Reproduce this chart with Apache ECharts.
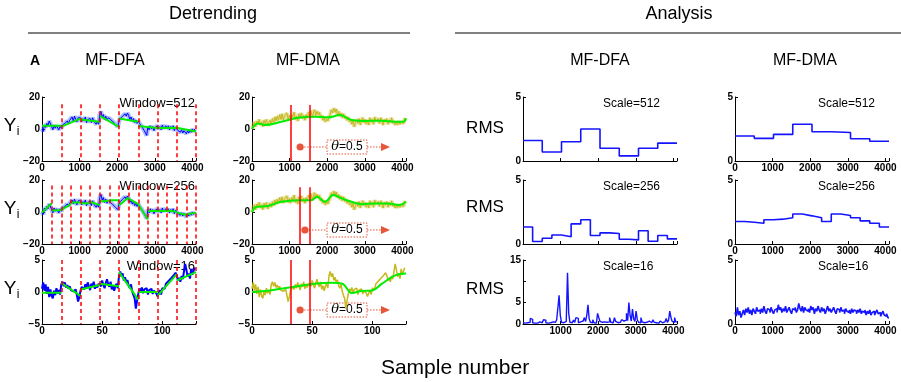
<!DOCTYPE html>
<html>
<head>
<meta charset="utf-8">
<script src="https://cdn.jsdelivr.net/npm/echarts@6/dist/echarts.min.js"></script>
<style>html,body{margin:0;background:#fff}#chart{width:901px;height:382px}</style>
</head>
<body>
<div id="chart"></div>
<script>
"use strict";
// long signals: one value every 32 samples (0..4064)
const SAMPLE_STEP = 32;
const dfaSignal = [
    0, -1.5, 2.5, 1, 3.5, 2, 5, 4.5,
    1.5, -0.5, 2.5, 0.5, 2, 1, -0.5, 2,
    0.5, 2.5, 1.5, 3.5, 2.5, 5, 3.5, 5.5,
    5, 7.5, 5, 8, 6, 4.5, 7, 6,
    7, 4.5, 6.5, 5, 7.5, 4, 6, 5,
    6.5, 4, 7, 5, 5.5, 3, 4.5, 3,
    9, 11, 7.5, 9, 6, 8, 5.5, 7,
    8, 6, 7, 4.5, 5, 3, 3.5, 1.5,
    5, 6.5, 5.5, 8, 7, 9.5, 8, 10,
    8.5, 6, 7.5, 5, 6.5, 4, 5.5, 3.5,
    5, 3.5, 4, 1.5, 2, -1, -0.5, -4,
    1.5, -0.5, 2, 0, 1.5, -1, 1, 0.5,
    2, 0, 1.5, -0.5, 2.5, 0.5, 1, 2,
    0.5, 2, -0.5, 1.5, 0, 2, -1, 1,
    1, -1, 0, -2, -0.5, -2.5, -1, -2,
    -3, -1, -2.5, -0.5, -2, 0, -1.5, 0
];
const dmaSignal = [
    0, 2, 4.5, 1.5, 5, 3, 6, 2.5,
    4.5, 1.5, 5.5, 3, 6, 2, 4, 5.5,
    3, 6.5, 4, 7.5, 5, 8, 5.5, 9,
    6, 9.5, 5.5, 8, 7, 10, 6, 8.5,
    5.5, 9, 7.5, 10.5, 6, 8, 5, 9.5,
    7, 10, 6.5, 8.5, 5.5, 9, 7, 10.5,
    8, 11.5, 7.5, 10, 12, 8.5, 11, 9,
    10.5, 7, 8.5, 5.5, 7, 4.5, 6.5, 5,
    7.5, 9, 12, 10, 13, 10.5, 12.5, 9,
    11, 8, 10, 7, 9.5, 6.5, 8, 5.5,
    7.5, 4.5, 6, 3, 5.5, 1.5, 4, 6,
    3.5, 6.5, 2.5, 5, 7, 4, 6, 3,
    5.5, 2.5, 7, 4.5, 6, 3, 7.5, 5,
    4, 6.5, 3.5, 7, 5, 2.5, 6, 4.5,
    6.5, 3, 5.5, 4, 7, 3.5, 5, 2.5,
    4.5, 2.5, 5, 3, 4.5, 5.5, 3.5, 7
];
// first 128 samples
const shortSignal = [
    0.5, 1.5, 0.2, 1.2, -0.3, 0.8, -0.8, 0.4, -0.6, -1, 0.2, -0.5, 0.6, -0.2, 0.3, -0.4,
    1.2, 1.6, 0.9, 1.5, 0.7, 1.1, 0.5, 0.9, 0.3, 0.6, 0.1, -0.2, 0.4, -0.5, -1.5, -0.8,
    0.2, 0.8, 1, 0.4, 1.2, 0.6, 1.5, 0.9, 0.3, 1.3, 0.8, 1.6, 0.5, 1.1, 0.7, 1.3,
    1.5, 0.9, 1.8, 1.1, 0.6, 1.4, 2, 1.2, 0.8, 1.6, 0.4, 1, 0.2, 0.9, 1.3, 0.6,
    2.5, 3.2, 2.4, 2.9, 1.8, 2.3, 1.5, 1.9, 1, 0.6, 1.2, 0.1, -0.5, -1, -2.6, -1.4,
    -0.3, 0.5, 0.1, 0.7, -0.2, 0.4, 0.2, 0.6, -0.4, 0.3, 0, 0.5, -0.3, 0.2, 0.4, -0.2,
    -0.7, -0.2, 0.3, -0.4, 0.6, 0.9, 0.5, 1.3, 1, 1.7, 1.4, 2.1, 1.8, 2.5, 2.2, 3,
    2.6, 1.8, 2.2, 1.6, 2.5, 2, 3.2, 4.4, 3.5, 2.4, 2.9, 2.1, 3.6, 2.7, 3.3, 3.8
];
// DFA local fits, [start, end] value of each window
const fit512 = [[2, 2], [1.5, 6.5], [6, 4.5], [8.2, 1.4], [6.6, 4.5], [1.9, 0.6], [0.6, 0.8], [0.8, -1.6]];
const fit256 = [[-0.4, 5.5], [1, 1.3], [1.3, 4.9], [6, 6], [5.5, 5.5], [6.4, 4.3], [6.6, 7], [7.4, 7.4],
    [4.2, 9.1], [8.3, 4.9], [4.9, -4.7], [0.6, 0.6], [0.6, 0.6], [1, 0.2], [-0.4, -1.9], [-1.5, -0.4]];
const fit16 = [[-0.1, -0.1], [1.4, -0.6], [0.4, 1.1], [1.3, 0.9], [3.1, -1.2], [0, 0], [-0.6, 2.8], [1.8, 3.1]];
// DMA moving averages [sample, value]
const trend512 = [[0, 0], [160, 3.5], [340, 2.5], [780, 4.5], [1230, 7], [1670, 7.7], [2030, 7.3], [2340, 8.7],
    [2650, 5.6], [3000, 5], [3450, 5.2], [3810, 4.6], [4030, 4.6], [4096, 6.7]];
const trend256 = [[0, 0], [115, 3.2], [430, 3.8], [780, 6.4], [1230, 7.4], [1580, 7.4], [1720, 9.6], [1940, 6.4],
    [2160, 10.6], [2390, 8.5], [2650, 6.4], [2920, 4.9], [3280, 5.3], [3630, 5.3], [3900, 4.3], [4096, 6.4]];
const trend16 = [[0, 0], [10.6, 0.15], [24, 0.5], [38, 0.9], [52, 1.3], [66, 1.45], [75, 1.3], [83, -0.15],
    [91, 0.15], [100, 0.25], [108, 1.3], [119, 2.6], [128, 2.9]];
const dmaMarks512 = [1024, 1536];
const dmaMarks256 = [1280, 1536];
const dmaMarks16 = [32, 48];
// RMS per window
const rmsDfa512 = [1.6, 0.7, 1.5, 2.5, 1.0, 0.4, 1.0, 1.4];
const rmsDfa256 = [1.33, 0.19, 0.45, 0.7, 0.56, 1.57, 1.9, 0.66, 0.87, 0.82, 0.37, 0.32, 1.04, 0.21, 0.66, 0.4];
const rmsDma512 = [1.95, 1.77, 2.08, 2.87, 2.28, 2.23, 1.74, 1.54];
const rmsDma256 = [1.76, 1.7, 1.62, 1.89, 1.94, 2.05, 2.34, 2.2, 2.05, 1.76, 2.34, 2.23, 2.05, 1.81, 1.62, 1.33];
const rmsDfa16 = [
    0.3, 0.2, 0.5, 0.3, 0.2, 0.4, 1.3, 1.1, 0.3, 0.2, 0.4, 0.2, 0.3, 0.5, 0.2, 0.3,
    0.6, 1.0, 0.9, 0.3, 0.2, 0.4, 0.3, 0.2, 0.5, 0.3, 0.4, 0.6, 1.0, 3.8, 6.7, 2.0,
    0.4, 0.3, 0.5, 0.6, 1.2, 12, 2.5, 0.4, 0.3, 0.6, 0.9, 0.4, 1.5, 1.3, 0.3, 0.5,
    0.4, 0.7, 0.5, 1.5, 0.6, 2.0, 4.5, 1.2, 0.4, 0.3, 1.0, 0.3, 0.2, 0.6, 2.5, 1.5,
    0.6, 0.4, 0.3, 0.5, 0.2, 0.4, 0.3, 0.5, 1.5, 0.4, 0.3, 0.5, 1.5, 0.6, 0.3, 0.2,
    0.4, 0.6, 1.0, 0.7, 0.3, 0.9, 2.5, 0.8, 5.0, 2.0, 0.7, 3.5, 1.2, 0.6, 3.0, 1.0,
    0.4, 0.3, 1.5, 0.5, 0.3, 0.2, 0.4, 0.3, 0.7, 0.4, 0.3, 0.2, 1.0, 0.4, 0.3, 0.5,
    0.2, 0.4, 0.7, 0.3, 0.2, 0.5, 0.6, 1.3, 0.4, 0.9, 3.0, 1.5, 0.6, 0.4, 1.5, 0.5
];
const rmsDma16 = [
    0.9, 0.6, 1.3, 0.7, 1.0, 0.5, 0.8, 1.1, 0.7, 1.2, 0.9, 1.3, 0.8, 1.1, 0.7, 1.2,
    1.0, 0.8, 1.3, 1.0, 1.1, 0.8, 1.2, 0.9, 1.4, 1.0, 0.8, 1.2, 1.1, 0.9, 1.3, 1.0,
    0.8, 1.1, 1.2, 0.9, 1.5, 1.1, 1.3, 0.9, 1.2, 1.0, 1.4, 0.9, 1.1, 1.3, 1.0, 0.8,
    1.2, 1.1, 1.3, 0.9, 1.1, 1.6, 1.2, 1.0, 1.4, 0.9, 1.3, 1.1, 1.0, 1.2, 0.9, 1.4,
    1.1, 1.3, 0.8, 1.2, 1.0, 1.4, 1.1, 0.9, 1.3, 1.0, 1.2, 0.8, 1.1, 1.4, 1.0, 1.2,
    0.9, 1.1, 1.3, 1.0, 0.8, 1.2, 1.1, 0.9, 1.3, 1.0, 1.1, 0.8, 1.2, 1.0, 0.9, 1.1,
    0.8, 1.2, 0.9, 1.1, 1.0, 0.8, 1.1, 0.9, 1.2, 0.8, 1.0, 0.9, 1.1, 0.7, 1.0, 0.8,
    1.1, 0.7, 0.9, 1.0, 0.7, 0.9, 1.1, 0.8, 0.9, 0.6, 0.8, 1.0, 0.7, 0.6, 0.8, 0.5
];

const FONT = 'Liberation Sans';
const colLeft = [42, 252, 523, 735];
const rowTop = [97, 180, 260];
const GRID_W = 154, GRID_H = 64;

const chart = echarts.init(document.getElementById('chart'));

function series(values, step) {
    return values.map((v, i) => [i * step, v]);
}
function fitSegments(pairs, w) {
    const out = [];
    pairs.forEach((p, k) => {
        out.push([k * w, p[0]], [(k + 1) * w, p[1]], [(k + 1) * w, '-']);
    });
    return out;
}
function stepData(values, w) {
    const d = values.map((v, i) => [i * w, v]);
    d.push([values.length * w, values[values.length - 1]]);
    return d;
}
function vLines(xs, top, bottom) {
    return xs.map(x => [{ coord: [x, top] }, { coord: [x, bottom] }]);
}
function windowEdges(w, total) {
    const xs = [];
    for (let x = w; x <= total; x += w) xs.push(x);
    return xs;
}
const minus = v => String(v).replace('-', '\u2212');

const grids = [], xAxes = [], yAxes = [];
for (let r = 0; r < 3; r++) {
    for (let c = 0; c < 4; c++) {
        const idx = r * 4 + c;
        grids.push({ left: colLeft[c], top: rowTop[r], width: GRID_W, height: GRID_H });
        const short = r === 2 && c < 2;
        const xmax = short ? 128 : 4096;
        const xint = short ? 50 : 1000;
        let showX = true;
        if (c === 2 && r < 2) showX = false;
        xAxes.push({
            type: 'value', gridIndex: idx, min: 0, max: xmax, interval: xint,
            splitLine: { show: false },
            axisLine: { onZero: false, lineStyle: { color: '#000', width: 1 } },
            axisTick: { show: true, inside: true, length: 3, lineStyle: { color: '#000' } },
            axisLabel: {
                show: showX, margin: 2, color: '#000', fontSize: 10, fontWeight: 'bold', fontFamily: FONT,
                formatter: v => (v % xint !== 0 || (c === 2 && v === 0)) ? '' : String(v)
            }
        });
        let ymin, ymax, yint;
        if (c < 2) {
            if (r < 2) { ymin = -20; ymax = 20; yint = 20; } else { ymin = -5; ymax = 5; yint = 5; }
        } else if (c === 2 && r === 2) {
            ymin = 0; ymax = 15; yint = 5;
        } else {
            ymin = 0; ymax = 5; yint = 5;
        }
        yAxes.push({
            type: 'value', gridIndex: idx, min: ymin, max: ymax, interval: yint,
            splitLine: { show: false },
            axisLine: { show: true, onZero: false, lineStyle: { color: '#000', width: 1 } },
            axisTick: { show: true, inside: true, length: 3, lineStyle: { color: '#000' } },
            axisLabel: {
                margin: 2, color: '#000', fontSize: 10, fontWeight: 'bold', fontFamily: FONT,
                formatter: v => (ymax === 15 && v === 10) ? '' : minus(v)
            }
        });
    }
}

const BLUE = '#0000ff', GREEN = '#00ee00', YELLOW = '#c4b81c', RED = '#ff0000';
const allSeries = [];
function line(idx, data, color, width, extra) {
    allSeries.push(Object.assign({
        type: 'line', xAxisIndex: idx, yAxisIndex: idx, data: data, showSymbol: false,
        symbol: 'none', silent: true, animation: false,
        lineStyle: { color: color, width: width }
    }, extra || {}));
}
function dashMarks(xs, top, bottom, solid) {
    return {
        silent: true, symbol: 'none', animation: false, label: { show: false },
        lineStyle: { color: RED, width: 1.5, type: solid ? 'solid' : [4, 3] },
        data: vLines(xs, top, bottom)
    };
}

// DFA column
const dfaRows = [
    { sig: dfaSignal, step: SAMPLE_STEP, fit: fit512, w: 512, total: 4096, top: 15.5, bottom: -20 },
    { sig: dfaSignal, step: SAMPLE_STEP, fit: fit256, w: 256, total: 4096, top: 16.5, bottom: -20 },
    { sig: shortSignal, step: 1, fit: fit16, w: 16, total: 128, top: 5, bottom: -5 }
];
dfaRows.forEach((d, r) => {
    const idx = r * 4;
    if (r < 2) line(idx, series(d.sig, d.step), 'rgba(70,110,255,0.45)', 4.5);
    line(idx, series(d.sig, d.step), BLUE, r < 2 ? 1 : 2);
    line(idx, fitSegments(d.fit, d.w), GREEN, 2, {
        z: 3, connectNulls: false,
        markLine: dashMarks(windowEdges(d.w, d.total), d.top, d.bottom, false)
    });
});
// DMA column
const dmaRows = [
    { sig: dmaSignal, step: SAMPLE_STEP, trend: trend512, marks: dmaMarks512, top: 15, bottom: -20 },
    { sig: dmaSignal, step: SAMPLE_STEP, trend: trend256, marks: dmaMarks256, top: 15.5, bottom: -20 },
    { sig: shortSignal, step: 1, trend: trend16, marks: dmaMarks16, top: 5, bottom: -5 }
];
dmaRows.forEach((d, r) => {
    const idx = r * 4 + 1;
    if (r < 2) line(idx, series(d.sig, d.step), 'rgba(200,185,40,0.45)', 4);
    line(idx, series(d.sig, d.step), YELLOW, r < 2 ? 1 : 1.5);
    line(idx, d.trend, GREEN, 2, {
        z: 3, smooth: 0.4,
        markLine: dashMarks(d.marks, d.top, d.bottom, true)
    });
});
// RMS columns
[[rmsDfa512, 512], [rmsDfa256, 256], [rmsDfa16, 32]].forEach((d, r) => {
    line(r * 4 + 2, stepData(d[0], d[1]), '#1414ff', r === 2 ? 1.4 : 1.6, { step: 'end' });
});
[[rmsDma512, 512], [rmsDma256, 256], [rmsDma16, 32]].forEach((d, r) => {
    line(r * 4 + 3, stepData(d[0], d[1]), '#1414ff', 1.6, { step: 'end' });
});

function txt(x, y, text, size, opts) {
    return Object.assign({
        type: 'text', x: x, y: y, silent: true,
        style: Object.assign({
            text: text, fontSize: size, fontFamily: FONT, fill: '#000',
            textAlign: 'center', textVerticalAlign: 'middle'
        }, (opts && opts.style) || {})
    }, (opts && opts.el) || {});
}
const graphics = [
    txt(213, 14, 'Detrending', 18),
    txt(679, 14, 'Analysis', 18),
    { type: 'line', silent: true, shape: { x1: 28, y1: 33, x2: 410, y2: 33 }, style: { stroke: '#000', lineWidth: 1 } },
    { type: 'line', silent: true, shape: { x1: 455, y1: 33, x2: 901, y2: 33 }, style: { stroke: '#000', lineWidth: 1 } },
    txt(35, 61, 'A', 14, { style: { fontWeight: 'bold' } }),
    txt(115, 61, 'MF-DFA', 16),
    txt(308, 61, 'MF-DMA', 16),
    txt(600, 61, 'MF-DFA', 16),
    txt(805, 61, 'MF-DMA', 16),
    txt(455, 368, 'Sample number', 21)
];
const winLabels = ['Window=512', 'Window=256', 'Window=16'];
const scaleLabels = ['Scale=512', 'Scale=256', 'Scale=16'];
const yiRow = [126, 209, 289];
const rmsRow = [128, 207, 289];
for (let r = 0; r < 3; r++) {
    graphics.push(txt(195, rowTop[r] + 6, winLabels[r], 13, { style: { textAlign: 'right' } }));
    graphics.push(txt(603, rowTop[r] + 7, scaleLabels[r], 12, { style: { textAlign: 'left' } }));
    graphics.push(txt(818, rowTop[r] + 7, scaleLabels[r], 12, { style: { textAlign: 'left' } }));
    graphics.push(txt(10, yiRow[r], 'Y', 19));
    graphics.push(txt(18, yiRow[r] + 6, 'i', 12));
    graphics.push(txt(485, rmsRow[r], 'RMS', 17));
}

chart.setOption({
    backgroundColor: '#fff',
    animation: false,
    grid: grids,
    xAxis: xAxes,
    yAxis: yAxes,
    series: allSeries,
    graphic: graphics
});

// theta annotation between the two DMA marks
const ORANGE = '#e8553a';
const annotate = [dmaMarks512, dmaMarks256, dmaMarks16];
annotate.forEach((m, r) => {
    const idx = r * 4 + 1;
    const mid = (m[0] + m[1]) / 2;
    const cx = chart.convertToPixel({ gridIndex: idx }, [mid, 0])[0];
    const cy = rowTop[r] + 50;
    graphics.push(
        { type: 'circle', silent: true, shape: { cx: cx, cy: cy, r: 3.6 }, style: { fill: ORANGE } },
        { type: 'line', silent: true, shape: { x1: cx + 4, y1: cy, x2: 327, y2: cy }, style: { stroke: ORANGE, lineWidth: 1.2, lineDash: [1.5, 1.5] } },
        { type: 'rect', silent: true, shape: { x: 327, y: cy - 7, width: 40, height: 14 }, style: { fill: '#fff', stroke: ORANGE, lineWidth: 1, lineDash: [1.5, 1.5] } },
        {
            type: 'text', silent: true, x: 347, y: cy, style: {
                text: '{a|\u03b8}{b|=0.5}', textAlign: 'center', textVerticalAlign: 'middle',
                rich: { a: { fontSize: 13, fontStyle: 'italic', fontFamily: 'DejaVu Serif', fill: '#000' }, b: { fontSize: 12, fontFamily: FONT, fill: '#000' } }
            }
        },
        { type: 'line', silent: true, shape: { x1: 367, y1: cy, x2: 383, y2: cy }, style: { stroke: ORANGE, lineWidth: 1.2, lineDash: [1.5, 1.5] } },
        { type: 'polygon', silent: true, shape: { points: [[381, cy - 4], [390, cy], [381, cy + 4]] }, style: { fill: ORANGE } }
    );
});
chart.setOption({ graphic: graphics });
</script>
</body>
</html>
